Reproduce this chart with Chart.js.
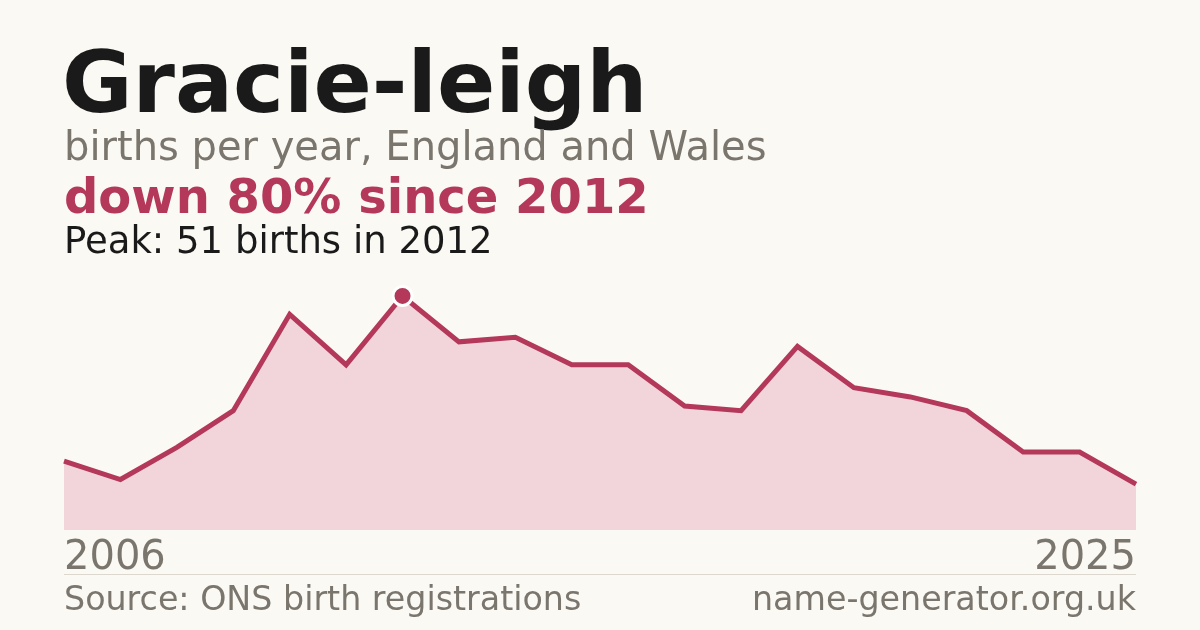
<!DOCTYPE html>
<html>
<head>
<meta charset="utf-8">
<script src="https://cdn.jsdelivr.net/npm/chart.js@4/dist/chart.umd.min.js"></script>
<style>
  html, body { margin: 0; padding: 0; background: #faf9f4; }
  #wrap { position: relative; width: 1200px; height: 630px; overflow: hidden; font-family: "DejaVu Sans", sans-serif; }
  #chart { position: absolute; left: 0; top: 0; }
  .txt { position: absolute; white-space: nowrap; line-height: 1; }
  #title { left: 62px; top: 39px; font-size: 86px; font-weight: bold; color: #1a1a1a; }
  #sub { left: 64px; top: 126px; font-size: 40px; color: #7a756d; }
  #change { left: 64px; top: 172px; font-size: 48px; font-weight: bold; color: #b3385a; }
  #peak { left: 64px; top: 222px; font-size: 37px; color: #1a1a1a; }
  #yStart { left: 64px; top: 535px; font-size: 40px; color: #7a756d; }
  #yEnd { right: 64px; top: 535px; font-size: 40px; color: #7a756d; }
  #rule { position: absolute; left: 64px; width: 1072px; top: 574px; height: 1px; background: #dcd8cf; }
  #source { left: 64px; top: 582px; font-size: 33.3px; color: #7a756d; }
  #site { right: 64px; top: 582px; font-size: 33.3px; color: #7a756d; }
</style>
</head>
<body>
<div id="wrap">
  <canvas id="chart" width="1200" height="630"></canvas>
  <div class="txt" id="title">Gracie-leigh</div>
  <div class="txt" id="sub">births per year, England and Wales</div>
  <div class="txt" id="change">down 80% since 2012</div>
  <div class="txt" id="peak"></div>
  <div class="txt" id="yStart"></div>
  <div class="txt" id="yEnd"></div>
  <div id="rule"></div>
  <div class="txt" id="source">Source: ONS birth registrations</div>
  <div class="txt" id="site">name-generator.org.uk</div>
</div>
<script>
// data
const years = [2006,2007,2008,2009,2010,2011,2012,2013,2014,2015,2016,2017,2018,2019,2020,2021,2022,2023,2024,2025];
const births = [15,11,18,26,47,36,51,41,42,36,36,27,26,40,31,29,26,17,17,10];

const lineColor = '#b3385a';
const fillColor = '#f2d5da';

const peakValue = Math.max(...births);
const peakIndex = births.indexOf(peakValue);

document.getElementById('peak').textContent = 'Peak: ' + peakValue + ' births in ' + years[peakIndex];
document.getElementById('yStart').textContent = years[0];
document.getElementById('yEnd').textContent = years[years.length - 1];

// only the peak gets a dot
const radii = births.map((v, i) => i === peakIndex ? 9.5 : 0);

const ctx = document.getElementById('chart');
new Chart(ctx, {
  type: 'line',
  data: {
    labels: years,
    datasets: [{
      data: births,
      borderColor: lineColor,
      borderWidth: 5,
      backgroundColor: fillColor,
      fill: 'origin',
      tension: 0,
      pointRadius: radii,
      pointBackgroundColor: lineColor,
      pointBorderColor: '#ffffff',
      pointBorderWidth: 3,
      pointHoverRadius: radii
    }]
  },
  options: {
    responsive: false,
    animation: false,
    layout: { padding: { left: 64, right: 64, top: 273, bottom: 100 } },
    plugins: { legend: { display: false }, tooltip: { enabled: false } },
    scales: {
      x: { display: false },
      y: { display: false, min: 0, max: 56 }
    }
  }
});
</script>
</body>
</html>
